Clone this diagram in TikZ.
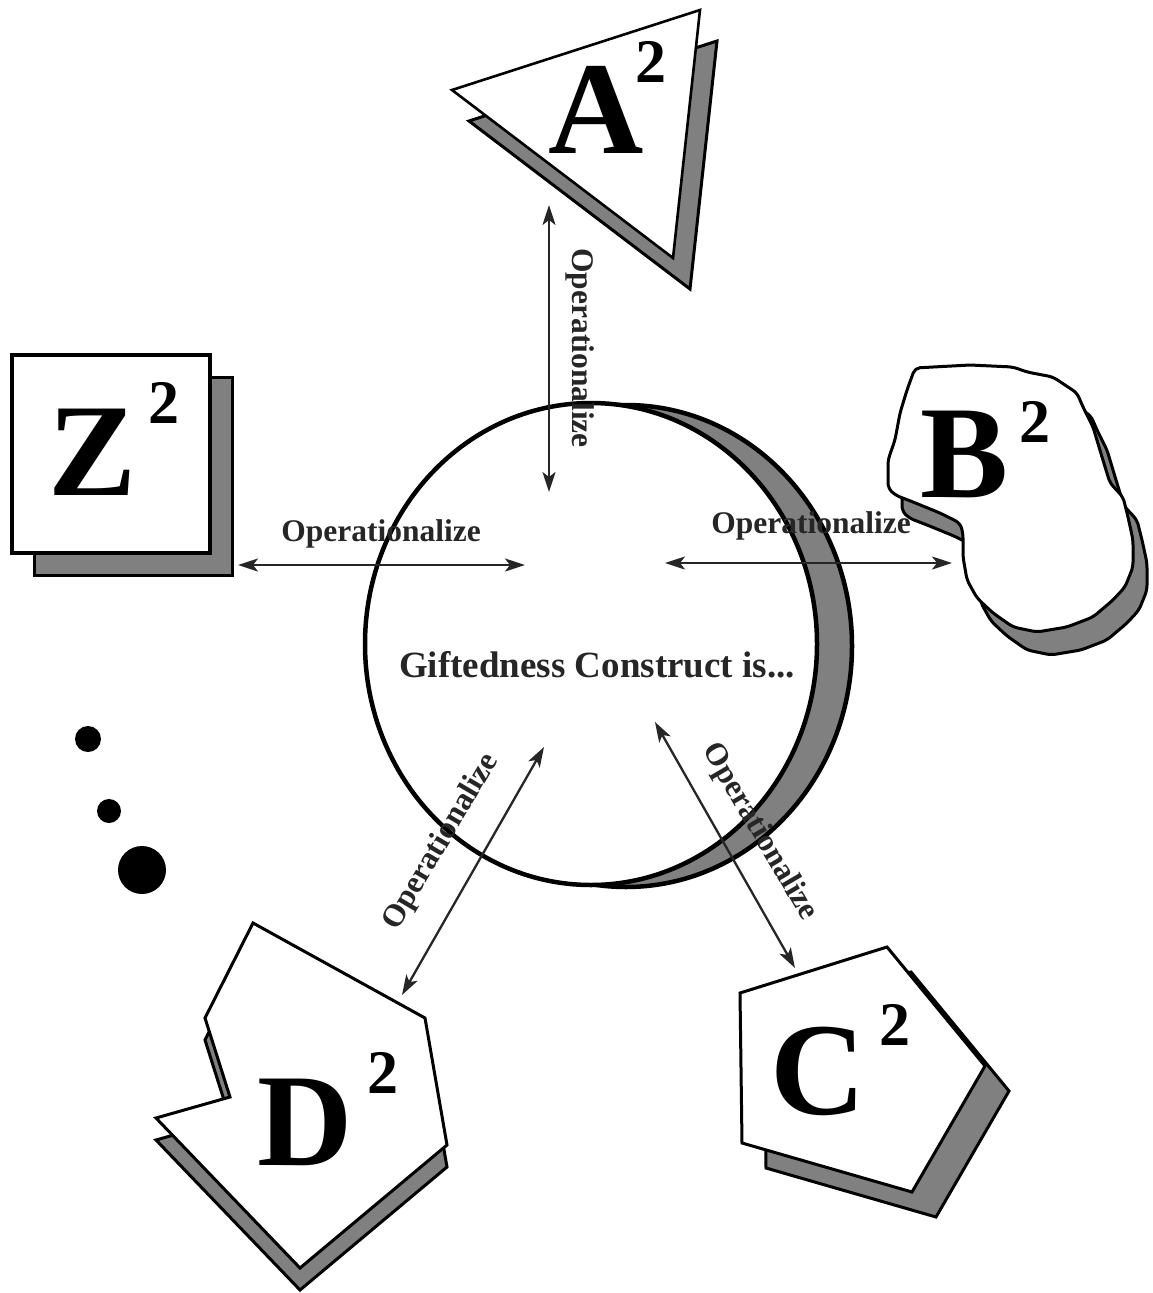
\documentclass[tikz,border=0pt]{standalone}
\usepackage{fontspec}
\setmainfont{Liberation Serif}
\usetikzlibrary{arrows.meta}

\begin{document}
\begin{tikzpicture}[x=1pt,y=-1pt,
  shadowfill/.style={draw=black,line width=3pt,fill=black!50},
  facefill/.style={draw=black,line width=3pt,fill=white,line join=miter},
  letter/.style={font=\fontsize{132}{132}\selectfont\bfseries,inner sep=0pt,anchor=base},
  power/.style={font=\fontsize{62}{62}\selectfont\bfseries,inner sep=0pt,anchor=base},
  oplabel/.style={font=\fontsize{31.5}{32}\selectfont\bfseries,text=black!85,inner sep=0pt,anchor=base},
  oparrow/.style={line width=2.3pt,draw=black!85,
    {Stealth[length=20pt,width=13pt,inset=5pt]}-{Stealth[length=20pt,width=13pt,inset=5pt]}}]
\useasboundingbox (0,0) rectangle (1153,1293);

% the construct
\draw[shadowfill,line width=4.5pt] (626,646) ellipse [x radius=226,y radius=241];
\draw[facefill,line width=4.5pt] (591,644) ellipse [x radius=226,y radius=241];
\node[oplabel,font=\fontsize{37}{38}\selectfont\bfseries] (gift) at (597,677) {Giftedness Construct is...};

% A
\draw[shadowfill,shift={(17,31)}] (452,90) -- (700,10) -- (673,258) -- cycle;
\draw[facefill,line width=2.6pt] (452,90) -- (700,10) -- (673,258) -- cycle;
\node[letter] (aL) at (596,153) {A}; \node[power] (aP) at (651,82) {2};

% Z
\draw[shadowfill] (34,377) rectangle (232,575);
\draw[facefill,line width=3.4pt] (12,355) rectangle (210,553);
\node[letter] (zL) at (93,495) {Z}; \node[power] (zP) at (164,423) {2};

% B
\draw[shadowfill,shift={(14,23)},rounded corners=5pt] (915,368) -- (970,365) -- (1013,367) -- (1027,372) -- (1053,377) -- (1065,385) -- (1077,393) -- (1083,407) -- (1093,427) -- (1102,457) -- (1110,483) -- (1123,497) -- (1128,517) -- (1133,540) -- (1133,567) -- (1125,587) -- (1113,600) -- (1093,617) -- (1067,627) -- (1037,632) -- (1013,627) -- (993,613) -- (977,598) -- (967,580) -- (963,557) -- (963,533) -- (960,523) -- (940,513) -- (913,502) -- (895,495) -- (888,488) -- (888,460) -- (895,440) -- (900,413) -- (907,390) -- cycle;
\draw[facefill,rounded corners=5pt] (915,368) -- (970,365) -- (1013,367) -- (1027,372) -- (1053,377) -- (1065,385) -- (1077,393) -- (1083,407) -- (1093,427) -- (1102,457) -- (1110,483) -- (1123,497) -- (1128,517) -- (1133,540) -- (1133,567) -- (1125,587) -- (1113,600) -- (1093,617) -- (1067,627) -- (1037,632) -- (1013,627) -- (993,613) -- (977,598) -- (967,580) -- (963,557) -- (963,533) -- (960,523) -- (940,513) -- (913,502) -- (895,495) -- (888,488) -- (888,460) -- (895,440) -- (900,413) -- (907,390) -- cycle;
\node[letter] (bL) at (965,497) {B}; \node[power] (bP) at (1035,442) {2};

% C
\draw[shadowfill,shift={(24,25)}] (740,993) -- (887,947) -- (985,1066) -- (912,1192) -- (742,1143) -- cycle;
\draw[facefill] (740,993) -- (887,947) -- (985,1066) -- (912,1192) -- (742,1143) -- cycle;
\node[letter] (cL) at (818,1114) {C}; \node[power] (cP) at (895,1045) {2};

% D
\draw[shadowfill,shift={(0,22)}] (253,923) -- (425,1018) -- (447,1145) -- (300,1268) -- (156,1118) -- (230,1097) -- (205,1018) -- cycle;
\draw[facefill] (253,923) -- (425,1018) -- (447,1145) -- (300,1268) -- (156,1118) -- (230,1097) -- (205,1018) -- cycle;
\node[letter] (dL) at (305,1165) {D}; \node[power] (dP) at (383,1093) {2};

% and so on
\fill (88,739) circle (13);
\fill (109,811) circle (12);
\fill (142,870) circle (24);

\coordinate (aTip) at (549,205); \coordinate (aHub) at (549,492);
\coordinate (zTip) at (238,565); \coordinate (zHub) at (525,565);
\coordinate (bTip) at (952,563); \coordinate (bHub) at (665,563);
\coordinate (dTip) at (402,995); \coordinate (dHub) at (544,747);
\coordinate (cTip) at (795,968); \coordinate (cHub) at (655,722);
\draw[oparrow] (aTip) -- (aHub);
\draw[oparrow] (zTip) -- (zHub);
\draw[oparrow] (bHub) -- (bTip);
\draw[oparrow] (dTip) -- (dHub);
\draw[oparrow] (cHub) -- (cTip);

\node[oplabel,rotate=-90] (opA) at (572,348) {Operationalize};
\node[oplabel] (opZ) at (381,541) {Operationalize};
\node[oplabel] (opB) at (811,533) {Operationalize};
\node[oplabel,rotate=59.5] (opD) at (448,846) {Operationalize};
\node[oplabel,rotate=-59.6] (opC) at (753,836) {Operationalize};
\end{tikzpicture}
\end{document}
